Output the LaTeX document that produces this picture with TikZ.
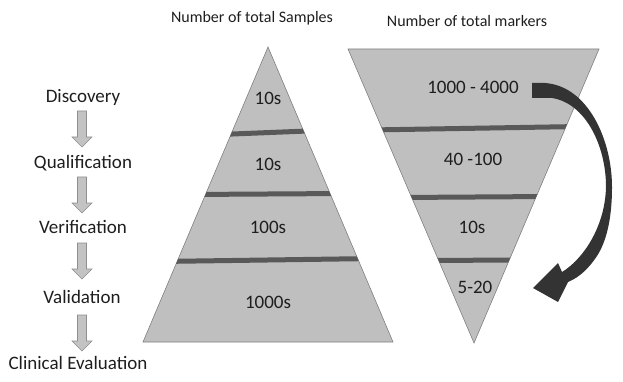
\documentclass[tikz,border=0pt]{standalone}
\usepackage{fontspec}
\setmainfont{Carlito}
\begin{document}
\begin{tikzpicture}[x=1pt,y=-1pt,
  lbl/.style={inner sep=0pt, text=txt, font=\fontsize{19}{22}\selectfont},
  ttl/.style={inner sep=0pt, text=txt, font=\fontsize{16}{19}\selectfont},
  tri/.style={fill=trifill, draw=triedge, line width=0.6pt},
  band/.style={draw=bandcol, line width=5pt},
  darr/.pic={\draw[fill=arrfill, draw=arredge, line width=0.6pt]
     (-4.5,0) -- (4.5,0) -- (4.5,26) -- (10,26) -- (0,36) -- (-10,26) -- (-4.5,26) -- cycle;}
]
\definecolor{txt}{HTML}{1E1E1E}
\definecolor{trifill}{HTML}{BFBFBF}
\definecolor{triedge}{HTML}{808080}
\definecolor{bandcol}{HTML}{595959}
\definecolor{arrfill}{HTML}{C3C3C3}
\definecolor{arredge}{HTML}{8E8E8E}
\definecolor{bigarr}{HTML}{333333}
\useasboundingbox (0,0) rectangle (623,382);

% left column
\node[lbl] (disc) at (83,97) {Discovery};
\node[lbl] (qual) at (83,163) {Qualification};
\node[lbl] (veri) at (83,227) {Verification};
\node[lbl] (vali) at (82,297) {Validation};
\node[lbl] (clin) at (78,363) {Clinical Evaluation};
\pic at (82,111) {darr};
\pic at (82,177) {darr};
\pic at (82,243) {darr};
\pic at (82,315) {darr};

% titles
\node[ttl] (tS) at (252,18) {Number of total Samples};
\node[ttl] (tM) at (467,21) {Number of total markers};

% left pyramid
\path[tri] (268,47) -- (393,342) -- (143,342) -- cycle;
\begin{scope}
  \clip (268,47) -- (393,342) -- (143,342) -- cycle;
  \draw[band] (220,134.5) -- (320,130.5);
  \draw[band] (190,194.5) -- (345,193.5);
  \draw[band] (160,261.5) -- (375,258.5);
\end{scope}
\node[lbl] (s1) at (268,98) {10s};
\node[lbl] (s2) at (268,164) {10s};
\node[lbl] (s3) at (268,227) {100s};
\node[lbl] (s4) at (268,302) {1000s};

% right inverted pyramid
\path[tri] (348,49) -- (599,49) -- (474,343) -- cycle;
\begin{scope}
  \clip (348,49) -- (599,49) -- (474,343) -- cycle;
  \draw[band] (370,130) -- (580,126.5);
  \draw[band] (400,197.5) -- (550,196.5);
  \draw[band] (425,260.5) -- (520,260);
\end{scope}
\node[lbl] (m1) at (473,87) {1000 - 4000};
\node[lbl] (m2) at (473,159) {40 -100};
\node[lbl] (m3) at (472,227) {10s};
\node[lbl] (m4) at (475,287) {5-20};

% curved arrow
\fill[bigarr] (532,83) -- (545,83)
  .. controls (588,86) and (612,140) .. (612,187)
  .. controls (612,220) and (606,242) .. (597,256)
  .. controls (589,268) and (580,277) .. (568,282)
  -- (558,302) -- (533,288) -- (558,263) -- (562,272)
  .. controls (582,260) and (605,228) .. (606,187)
  .. controls (606,145) and (585,103) .. (552,98)
  -- (532,98) -- cycle;
\end{tikzpicture}
\end{document}
